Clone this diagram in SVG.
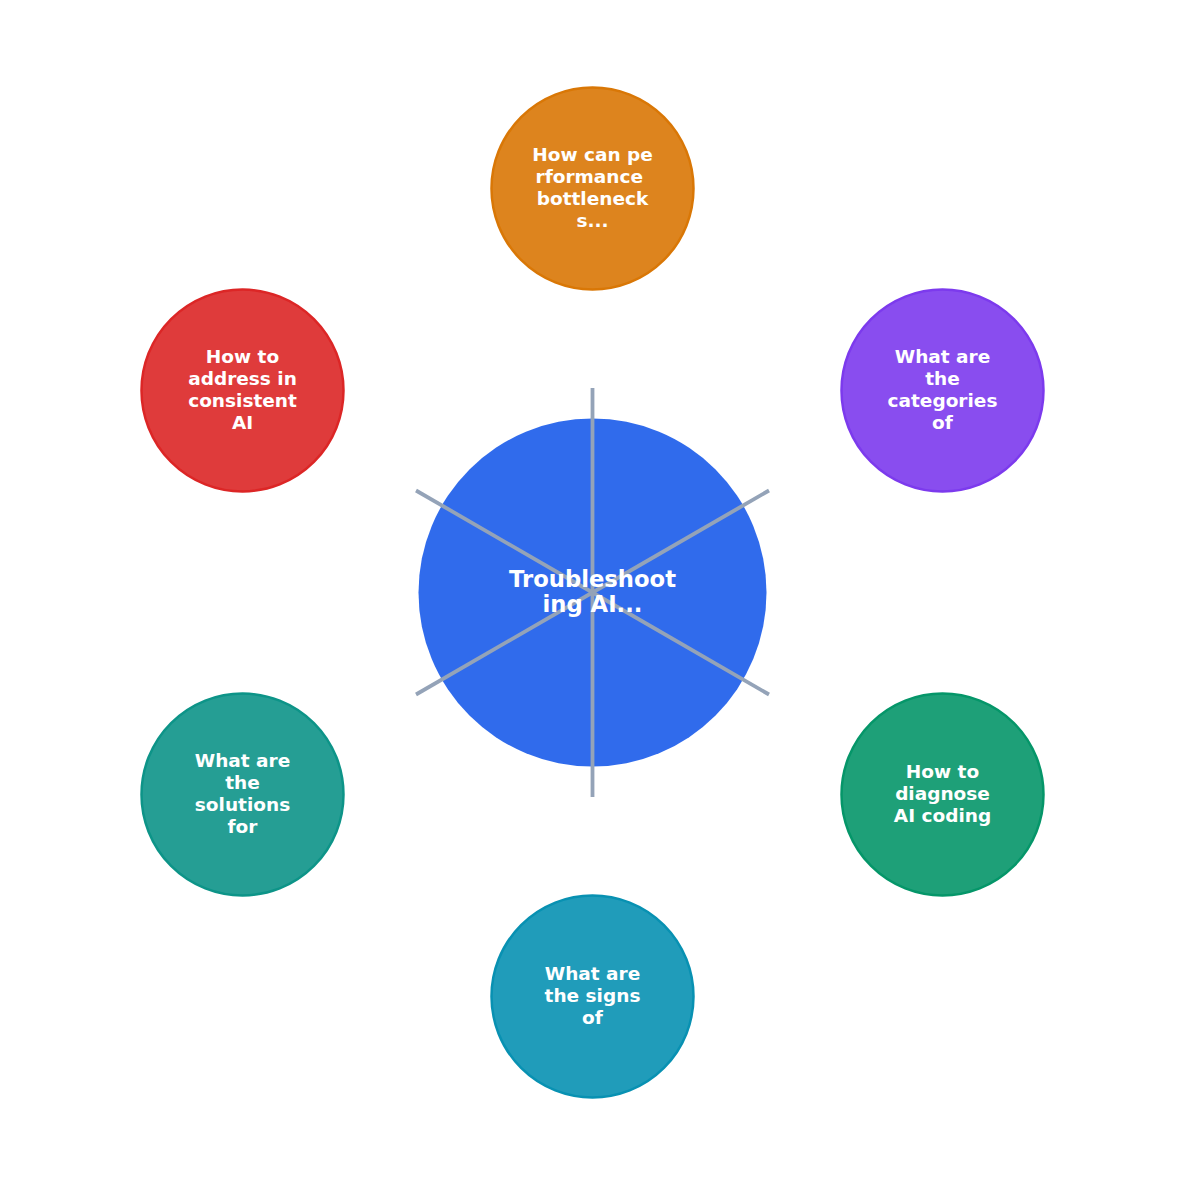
<svg xmlns="http://www.w3.org/2000/svg" width="1185" height="1185" viewBox="0 0 1185 1185">
<style>
.node circle{stroke-width:2.5}
.lbl{font-family:"DejaVu Sans","Liberation Sans",sans-serif;font-weight:bold;fill:#ffffff;text-anchor:middle}
.sm{font-size:18.5px}
.big{font-size:22.7px}
.conn line{stroke:#94a3b8;stroke-width:3.8;stroke-linecap:butt}
</style>
<rect width="1185" height="1185" fill="#ffffff"/>
<g id="center-circle"><circle cx="592.5" cy="592.5" r="174" fill="#2563eb" fill-opacity="0.95"/></g>
<g id="connectors" class="conn">
<line x1="592.5" y1="592.5" x2="592.5" y2="388"/>
<line x1="592.5" y1="592.5" x2="769" y2="490.5"/>
<line x1="592.5" y1="592.5" x2="769" y2="694.5"/>
<line x1="592.5" y1="592.5" x2="592.5" y2="797"/>
<line x1="592.5" y1="592.5" x2="416" y2="694.5"/>
<line x1="592.5" y1="592.5" x2="416" y2="490.5"/>
</g>
<g id="center" class="node">
<text class="lbl big"><tspan x="592.5" y="586.5">Troubleshoot</tspan><tspan x="592.5" y="611.5">ing AI...</tspan></text>
</g>
<g id="n-top" class="node">
<circle cx="592.5" cy="188.5" r="101" fill="#d97706" fill-opacity="0.9" stroke="#d97706"/>
<text class="lbl sm"><tspan x="592.5" y="160.5">How can pe</tspan><tspan x="592.5" y="182.5">rformance </tspan><tspan x="592.5" y="204.5">bottleneck</tspan><tspan x="592.5" y="226.5">s...</tspan></text>
</g>
<g id="n-topright" class="node">
<circle cx="942.5" cy="390.5" r="101" fill="#7c3aed" fill-opacity="0.9" stroke="#7c3aed"/>
<text class="lbl sm"><tspan x="942.5" y="362.5">What are</tspan><tspan x="942.5" y="384.5">the</tspan><tspan x="942.5" y="406.5">categories</tspan><tspan x="942.5" y="428.5">of</tspan></text>
</g>
<g id="n-bottomright" class="node">
<circle cx="942.5" cy="794.5" r="101" fill="#059669" fill-opacity="0.9" stroke="#059669"/>
<text class="lbl sm"><tspan x="942.5" y="777.5">How to</tspan><tspan x="942.5" y="799.5">diagnose</tspan><tspan x="942.5" y="821.5">AI coding</tspan></text>
</g>
<g id="n-bottom" class="node">
<circle cx="592.5" cy="996.5" r="101" fill="#0891b2" fill-opacity="0.9" stroke="#0891b2"/>
<text class="lbl sm"><tspan x="592.5" y="979.5">What are</tspan><tspan x="592.5" y="1001.5">the signs</tspan><tspan x="592.5" y="1023.5">of</tspan></text>
</g>
<g id="n-bottomleft" class="node">
<circle cx="242.5" cy="794.5" r="101" fill="#0d9488" fill-opacity="0.9" stroke="#0d9488"/>
<text class="lbl sm"><tspan x="242.5" y="766.5">What are</tspan><tspan x="242.5" y="788.5">the</tspan><tspan x="242.5" y="810.5">solutions</tspan><tspan x="242.5" y="832.5">for</tspan></text>
</g>
<g id="n-topleft" class="node">
<circle cx="242.5" cy="390.5" r="101" fill="#dc2626" fill-opacity="0.9" stroke="#dc2626"/>
<text class="lbl sm"><tspan x="242.5" y="362.5">How to</tspan><tspan x="242.5" y="384.5">address in</tspan><tspan x="242.5" y="406.5">consistent</tspan><tspan x="242.5" y="428.5">AI</tspan></text>
</g>
</svg>
